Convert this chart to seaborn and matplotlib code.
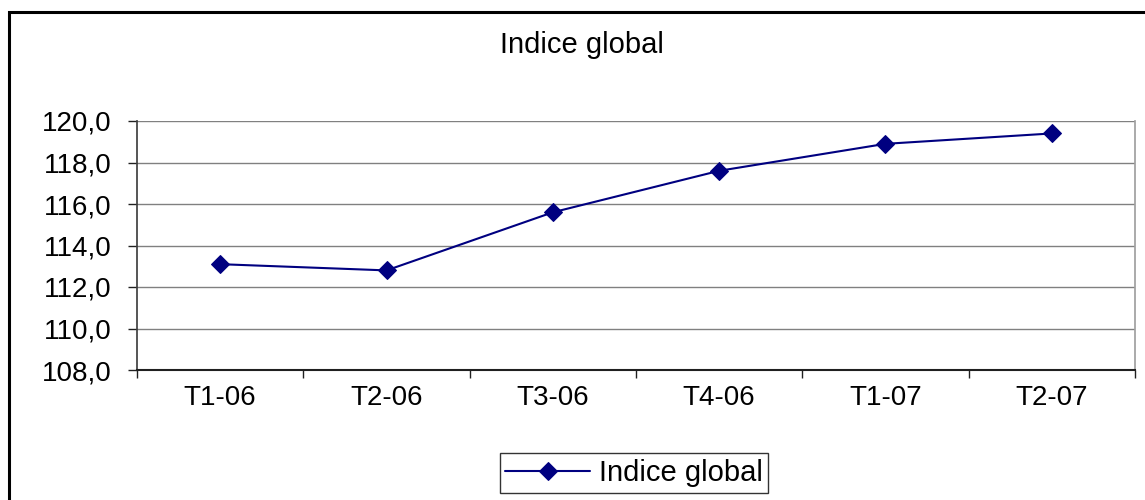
import numpy as np
import pandas as pd
import seaborn as sns
import matplotlib.pyplot as plt
from matplotlib.patches import Rectangle

# quarterly values
quarters = ['T1-06', 'T2-06', 'T3-06', 'T4-06', 'T1-07', 'T2-07']
indice_global = [113.1, 112.8, 115.6, 117.6, 118.9, 119.4]
y_ticks = [108, 110, 112, 114, 116, 118, 120]

sns.set_theme(style='white')
plt.rcParams['font.family'] = ['Liberation Sans', 'DejaVu Sans']

df = pd.DataFrame({'trimestre': quarters, 'valeur': indice_global})

W, H = 1145, 500
fig = plt.figure(figsize=(W / 100, H / 100), dpi=100)
fig.patch.set_facecolor('white')

# outer chart frame (cut off at right and bottom)
fig.patches.append(Rectangle((9 / W, -0.1), 1.2, 1 - 12 / H + 0.1,
                             transform=fig.transFigure, fill=False,
                             edgecolor='black', linewidth=2.2, zorder=0))

ax = fig.add_axes([137 / W, 1 - 370 / H, (1135 - 137) / W, (370 - 121) / H])
sns.lineplot(data=df, x='trimestre', y='valeur', ax=ax, sort=False,
             color='#000080', linewidth=1.5, marker='D', markersize=9,
             markeredgecolor='#000080', label='Indice global')

ax.set_xlim(-0.5, len(quarters) - 0.5)
ax.set_ylim(108, 120)
ax.set_xlabel('')
ax.set_ylabel('')

# tick marks on category boundaries, labels in the middle
ax.set_xticks(np.arange(-0.5, len(quarters)))
ax.set_xticklabels([])
ax.set_xticks(np.arange(len(quarters)), minor=True)
ax.set_xticklabels(quarters, minor=True)
ax.tick_params(axis='x', which='major', direction='out', length=6, width=1,
               color='#202020', bottom=True)
ax.tick_params(axis='x', which='minor', length=0, pad=11, labelsize=20,
               labelcolor='black')

ax.set_yticks(y_ticks)
ax.set_yticklabels([f'{v:.1f}'.replace('.', ',') for v in y_ticks])
ax.tick_params(axis='y', direction='out', length=6.5, width=1, color='#202020',
               left=True, pad=12, labelsize=20, labelcolor='black')

ax.grid(axis='y', color='#808080', linewidth=1)
ax.set_axisbelow(True)
ax.spines['left'].set_color('#404040')
ax.spines['bottom'].set_color('#202020')
ax.spines['bottom'].set_linewidth(1.5)
ax.spines['right'].set_color('#a0a0a0')
ax.spines['top'].set_visible(False)

fig.text(582 / W, 1 - 45 / H, 'Indice global', ha='center', va='center',
         fontsize=21, color='black')

leg = ax.legend(loc='lower center', bbox_to_anchor=(634 / W, 1 - 493 / H),
                bbox_transform=fig.transFigure, fontsize=21, frameon=True,
                fancybox=False, edgecolor='black', handlelength=2.9,
                borderpad=0.2, borderaxespad=0, handletextpad=0.3,
                labelcolor='black')
leg.get_frame().set_linewidth(1)

fig.savefig('out.png', dpi=100, facecolor='white')
